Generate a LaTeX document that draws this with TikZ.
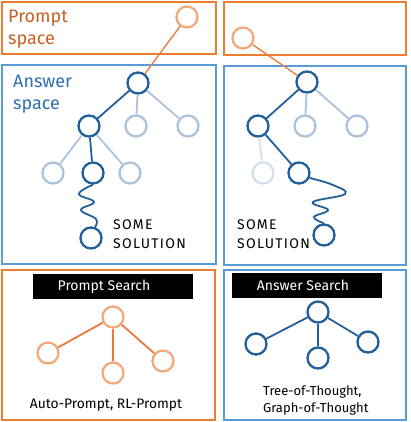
\documentclass[tikz,border=0pt]{standalone}
\usepackage{fontspec}
\setmainfont{Fira Sans}
\newfontfamily\handfont[LetterSpace=9]{Fira Sans}
\definecolor{obox}{HTML}{ED7D31}
\definecolor{ptext}{HTML}{C95F22}
\definecolor{lorange}{HTML}{F2A97C}
\definecolor{oline}{HTML}{E9783A}
\definecolor{bbox}{HTML}{5B9BD5}
\definecolor{atext}{HTML}{2E6FB0}
\definecolor{dblue}{HTML}{22609C}
\definecolor{lblue}{HTML}{ADC3DC}
\definecolor{vlblue}{HTML}{D5E0EC}
\tikzset{
  obx/.style={draw=obox, line width=2pt},
  bbx/.style={draw=bbox, line width=2pt},
  cnode/.style={circle, inner sep=0pt, minimum size=21pt, line width=2.3pt, fill=white},
  onode/.style={cnode, draw=lorange},
  dnode/.style={cnode, draw=dblue},
  lnode/.style={cnode, draw=lblue},
  vlnode/.style={cnode, draw=vlblue},
  oln/.style={draw=oline, line width=1.8pt},
  pln/.style={draw=oline, line width=1.3pt},
  dln/.style={draw=dblue, line width=1.8pt},
  lln/.style={draw=lblue, line width=1.8pt},
  vlln/.style={draw=vlblue, line width=1.8pt},
  bar/.style={fill=black, text=white, minimum height=25pt, inner sep=0pt, font=\fontsize{14}{16}\selectfont},
  big/.style={font=\fontsize{18}{22}\selectfont, align=left, inner sep=0pt, anchor=north west},
  hand/.style={font=\handfont\fontsize{14}{19}\selectfont, align=left, inner sep=0pt, anchor=north west},
  lab/.style={font=\fontsize{13}{17}\selectfont, inner sep=0pt}
}
\begin{document}
\begin{tikzpicture}[x=1pt,y=-1pt]
\useasboundingbox (0,0) rectangle (410,422);
% boxes
\draw[obx] (2,2) rectangle (216,54);
\draw[obx] (224,2) rectangle (406,55);
\draw[bbx] (2,65) rectangle (216,264);
\draw[bbx] (224,66) rectangle (406,265);
\draw[obx] (2,270) rectangle (215,420);
\draw[bbx] (224,270) rectangle (406,420);
% labels
\node[big, text=ptext] (plab) at (8,9.5) {Prompt\\space};
\node[big, text=atext] (alab) at (13,74.5) {Answer\\space};
% left tree
\node[onode] (p1) at (187,17) {};
\node[dnode] (r1) at (138,83) {};
\node[dnode] (a1) at (89,126) {};
\node[lnode] (b1) at (136,126) {};
\node[lnode] (c1) at (188,126) {};
\node[lnode] (d1) at (53,173) {};
\node[dnode] (e1) at (93,173) {};
\node[lnode] (f1) at (130,173) {};
\node[dnode] (s1) at (91,238) {};
\draw[pln] (p1) -- (r1);
\draw[dln] (r1) -- (a1);
\draw[lln] (r1) -- (b1);
\draw[lln] (r1) -- (c1);
\draw[lln] (a1) -- (d1);
\draw[dln] (a1) -- (e1);
\draw[lln] (a1) -- (f1);
\draw[dln] plot[smooth, tension=0.7] coordinates {(e1.south) (79,194) (94,202) (81,210) (96,219) (s1.70)};
\node[hand] (sol1) at (113,219) {SOME\\SOLUTION};
% right tree
\node[onode] (p2) at (243,38) {};
\node[dnode] (r2) at (307,82) {};
\node[dnode] (a2) at (258,126) {};
\node[lnode] (b2) at (305,126) {};
\node[lnode] (c2) at (357,126) {};
\node[vlnode] (d2) at (263,173) {};
\node[dnode] (e2) at (299,173) {};
\node[dnode] (s2) at (324,235) {};
\draw[pln] (p2) -- (r2);
\draw[dln] (r2) -- (a2);
\draw[lln] (r2) -- (b2);
\draw[lln] (r2) -- (c2);
\draw[vlln] (a2) -- (d2);
\draw[dln] (a2) -- (e2);
\draw[dln] plot[smooth, tension=0.7] coordinates {(e2.-25) (333,185) (345,194) (313,202) (328,210) (314,217) (s2.north)};
\node[hand] (sol2) at (237,219) {SOME\\SOLUTION};
% bottom left
\node[bar, minimum width=160pt] (ps) at (113,286.5) {Prompt Search\kern18pt};
\node[onode] (q0) at (113,317) {};
\node[onode] (q1) at (48,353) {};
\node[onode] (q2) at (113,373) {};
\node[onode] (q3) at (163,361) {};
\draw[oln] (q0) -- (q1);
\draw[oln] (q0) -- (q2);
\draw[oln] (q0) -- (q3);
\node[lab, font=\fontsize{13.8}{17}\selectfont] (apl) at (106,405) {Auto-Prompt, RL-Prompt};
% bottom right
\node[bar, minimum width=150pt] (as) at (307,285.5) {Answer Search\kern8pt};
\node[dnode] (t0) at (318,312) {};
\node[dnode] (t1) at (256,344) {};
\node[dnode] (t2) at (318,358) {};
\node[dnode] (t3) at (368,342) {};
\draw[dln] (t0) -- (t1);
\draw[dln] (t0) -- (t2);
\draw[dln] (t0) -- (t3);
\node[lab, align=left, anchor=west] (tgl) at (263,400.5) {Tree-of-Thought,\\Graph-of-Thought};
\end{tikzpicture}
\end{document}
